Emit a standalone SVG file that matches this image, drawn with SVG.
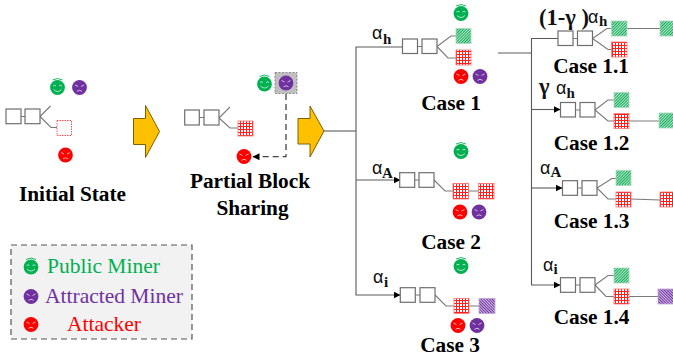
<svg xmlns="http://www.w3.org/2000/svg" width="673" height="358" viewBox="0 0 673 358">
<style>
.b{fill:#fff;stroke:#6e6e6e;stroke-width:1.2}
.l{fill:none;stroke:#7a7a7a;stroke-width:1.1}
.t{fill:none;stroke:#5a5a5a;stroke-width:1.1}
.ar{fill:#ffc000;stroke:#7f6000;stroke-width:1}
.c{font:bold 21.3px "Liberation Serif",serif;fill:#000;text-anchor:middle}
.al{font:18px "Liberation Sans",sans-serif;fill:#111}
.s{font:bold 15px "Liberation Serif",serif;fill:#111}
.x{font:bold 22.5px "Liberation Serif",serif;fill:#111}
.g{fill:url(#pg);stroke:#a9d8bc;stroke-width:.8}
.r{fill:url(#pr);stroke:#ff7070;stroke-width:.8}
.p{fill:url(#pp);stroke:#c0a6d6;stroke-width:.8}
.lg{font:21.5px "Liberation Serif",serif}
.fl{fill:none;stroke:#fff;stroke-width:.8;stroke-opacity:.85}
.hl{fill:none;stroke:#00b050;stroke-width:.9}
</style>
<defs>
<pattern id="pg" width="2" height="2" patternUnits="userSpaceOnUse" patternTransform="rotate(45)"><rect width="2" height="2" fill="#b4e6c8"/><rect width="1" height="2" fill="#12ad5a"/></pattern>
<pattern id="pr" width="3" height="3" patternUnits="userSpaceOnUse"><rect width="3" height="3" fill="#fff"/><path d="M0 .5H3M.5 0V3" stroke="#ff2020" stroke-width="1"/></pattern>
<pattern id="pp" width="2" height="2" patternUnits="userSpaceOnUse" patternTransform="rotate(-45)"><rect width="2" height="2" fill="#d2bfe4"/><rect width="1" height="2" fill="#7030a0"/></pattern>
<marker id="m" markerWidth="8" markerHeight="8" refX="6.5" refY="3.5" orient="auto" markerUnits="userSpaceOnUse"><path d="M0 0L7 3.5L0 7Z" fill="#000"/></marker>
<g id="fg"><circle r="7.4" fill="#00b050"/><path class="hl" d="M-5-7.5Q0-10.5 5-7.5"/><path class="fl" d="M-4.5-1.5Q-3-3-1.5-1.5M1.5-1.5Q3-3 4.5-1.5M-4 2Q0 6 4 2"/></g>
<g id="fp"><circle r="7.4" fill="#7030a0"/><path class="fl" d="M-4.5-2.5L-1.5-1M4.5-2.5L1.5-1M-2.5 3.8Q0 1.8 2.5 3.8"/></g>
<g id="fr"><circle r="7.4" fill="#ff0000"/><path class="fl" d="M-4.5-2.5L-1.5-1M4.5-2.5L1.5-1M-2.5 3.8Q0 1.8 2.5 3.8"/></g>
</defs>
<g id="connectors">
<path class="l" d="M20.7 116.5H25M40 116.5L50.5 106M40 116.5L51 127.5H57"/>
<path class="l" d="M199.3 117.5H204M219 118L230 107M219 118L230 128H238"/>
<path d="M286 94V156.7H253" fill="none" stroke="#444" stroke-width="1.3" stroke-dasharray="6 4" marker-end="url(#m)"/>
<path class="t" d="M324 131H356"/>
<path class="t" d="M402 47H356V295H400" marker-end="url(#m)"/>
<path class="t" d="M356 180H400" marker-end="url(#m)"/>
<path class="l" d="M417.5 46.5H422M437 46.5L451 36H456M437 46.5L448 58H456"/>
<path class="l" d="M414.7 180H419M434 180L445 191H453M468.5 191H478.5"/>
<path class="l" d="M415.3 295H420M435 295L446 306H454M469 306H479"/>
<path class="t" d="M498 53H531.5"/>
<path class="t" d="M558 38.5H531.5V285H560" marker-end="url(#m)"/>
<path class="t" d="M531.5 109.5H560" marker-end="url(#m)"/>
<path class="t" d="M531.5 188H562" marker-end="url(#m)"/>
<path class="l" d="M573 38.5H577.5M592.5 38.5L607 28.5H611.5M592.5 38.5L608 49.5H611.5M627 28.5H660"/>
<path class="l" d="M575.5 110H580M595 110L608 100H614M595 110L608 121H614M629 121H659"/>
<path class="l" d="M577.5 188H582M597 188L612 178.5H616M597 188L608 199H616M631 199L660 200"/>
<path class="l" d="M575.5 285H580M595 285L608 275.5H614M595 285L606 296.5H614M629 296.5H658"/>
</g>
<g id="initial-state">
<rect class="b" x="6" y="109" width="15" height="14.7"/><rect class="b" x="25" y="109" width="15" height="14.7"/>
<rect x="57" y="120.5" width="14.5" height="15" fill="#fff" stroke="#ff5050" stroke-width="1" stroke-dasharray="1.5 1"/>
<use href="#fg" x="57.5" y="87.5"/><use href="#fp" x="79.5" y="87.5"/><use href="#fr" x="65.5" y="155"/>
<text class="c" x="72.5" y="201">Initial State</text>
</g>
<g id="arrow-1"><path class="ar" d="M133.5 118.5H145.5V105.5L159.5 131.5L145.5 157.5V144.5H133.5Z"/></g>
<g id="partial-block-sharing">
<rect class="b" x="184.7" y="110" width="14.6" height="15"/><rect class="b" x="204" y="110" width="15" height="15"/>
<rect class="r" x="238" y="121" width="15" height="15"/>
<use href="#fg" x="264.5" y="84"/>
<rect x="275" y="72.5" width="22" height="21" fill="#bfbfbf" stroke="#777" stroke-width=".8" stroke-dasharray="2 1.5"/>
<use href="#fp" x="286" y="83"/><use href="#fr" x="244" y="156.5"/>
<text class="c" x="250" y="188">Partial Block</text><text class="c" x="252.5" y="215">Sharing</text>
</g>
<g id="arrow-2"><path class="ar" d="M298 118.5H310V106L324 131L310 157V144H298Z"/></g>
<g id="case-1">
<rect class="b" x="402.5" y="39" width="15" height="14.5"/><rect class="b" x="422" y="39" width="15" height="14.5"/>
<rect class="g" x="456" y="28.5" width="15" height="15"/><rect class="r" x="456" y="50" width="15" height="15"/>
<use href="#fg" x="461" y="13.5"/><use href="#fr" x="461" y="76.5"/><use href="#fp" x="480" y="76.5"/>
<text class="al" x="372" y="39">α</text><text class="s" x="383" y="43.5">h</text>
<text class="c" x="451" y="110">Case 1</text>
</g>
<g id="case-2">
<rect class="b" x="399.7" y="172.7" width="15" height="14.6"/><rect class="b" x="419" y="172.7" width="15" height="14.6"/>
<rect class="r" x="453" y="183.5" width="15.5" height="15.5"/><rect class="r" x="478.5" y="183.5" width="15.5" height="15.5"/>
<use href="#fg" x="461" y="151.5"/><use href="#fr" x="460" y="212"/><use href="#fp" x="479" y="212"/>
<text class="al" x="372" y="174">α</text><text class="s" x="382" y="178">A</text>
<text class="c" x="451" y="249">Case 2</text>
</g>
<g id="case-3">
<rect class="b" x="400.3" y="287.7" width="15" height="14.6"/><rect class="b" x="420" y="287.7" width="15" height="14.6"/>
<rect class="r" x="454" y="298.5" width="15" height="15"/><rect class="p" x="479" y="298.5" width="16" height="15"/>
<use href="#fg" x="461" y="266.5"/><use href="#fr" x="458" y="325.5"/><use href="#fp" x="477" y="325.5"/>
<text class="al" x="373" y="283">α</text><text class="s" x="384" y="287">i</text>
<text class="c" x="450" y="351.5">Case 3</text>
</g>
<g id="case-1-1">
<rect class="b" x="558" y="31" width="15" height="14.5"/><rect class="b" x="577.5" y="31" width="15" height="14.5"/>
<rect class="g" x="611.5" y="21" width="15.5" height="15"/><rect class="r" x="611.5" y="42" width="15.5" height="15"/><rect class="g" x="660" y="21" width="14" height="15"/>
<text class="x" x="539" y="25">(1-γ )</text><text class="al" x="588" y="23">α</text><text class="s" x="599" y="26">h</text>
<text class="c" x="591" y="73">Case 1.1</text>
</g>
<g id="case-1-2">
<rect class="b" x="560.5" y="102.5" width="15" height="14.5"/><rect class="b" x="580" y="102.5" width="15" height="14.5"/>
<rect class="g" x="614" y="92.5" width="15" height="15"/><rect class="r" x="614" y="113.5" width="15" height="15"/><rect class="g" x="659" y="113" width="15" height="15"/>
<text class="x" x="539" y="94">γ</text><text class="al" x="556" y="94">α</text><text class="s" x="566.5" y="97.5">h</text>
<text class="c" x="591.5" y="150">Case 1.2</text>
</g>
<g id="case-1-3">
<rect class="b" x="562.5" y="180.7" width="15" height="14.6"/><rect class="b" x="582" y="180.7" width="15" height="14.6"/>
<rect class="g" x="616" y="170.5" width="15" height="15"/><rect class="r" x="616" y="192" width="15" height="15"/><rect class="r" x="660" y="192" width="14" height="15"/>
<text class="al" x="540" y="174">α</text><text class="s" x="550.5" y="177">A</text>
<text class="c" x="591.5" y="228">Case 1.3</text>
</g>
<g id="case-1-4">
<rect class="b" x="560.5" y="277.7" width="15" height="14.6"/><rect class="b" x="580" y="277.7" width="15" height="14.6"/>
<rect class="g" x="614" y="268" width="15" height="15"/><rect class="r" x="614" y="289" width="15" height="15"/><rect class="p" x="658" y="289" width="16" height="15"/>
<text class="al" x="543" y="271">α</text><text class="s" x="553.5" y="274">i</text>
<text class="c" x="591.5" y="324">Case 1.4</text>
</g>
<g id="legend">
<rect x="11" y="245" width="181" height="94" fill="#f2f2f2" stroke="#555" stroke-width="1.2" stroke-dasharray="6 4"/>
<use href="#fg" x="31" y="267"/><use href="#fp" x="31" y="296.5"/><use href="#fr" x="31" y="324.5"/>
<text class="lg" x="47" y="273" fill="#00b050">Public Miner</text>
<text class="lg" x="45" y="303" fill="#7030a0">Attracted Miner</text>
<text class="lg" x="67" y="331" fill="#ff0000">Attacker</text>
</g>
</svg>
